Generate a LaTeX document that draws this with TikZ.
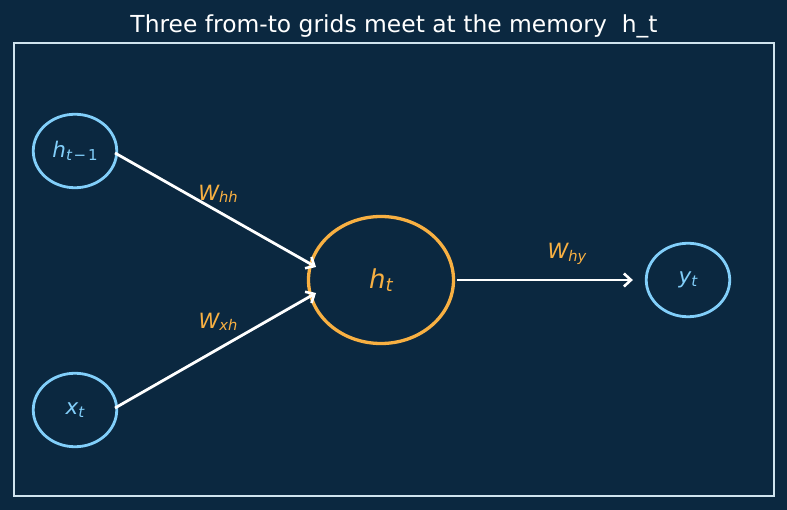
\documentclass[tikz,border=0pt]{standalone}
\usepackage{fontspec}
\setmainfont{DejaVu Sans}
\usetikzlibrary{shapes.geometric,arrows.meta,calc}
\definecolor{bgc}{HTML}{0B2840}
\definecolor{framec}{HTML}{CFE3EE}
\definecolor{bluec}{HTML}{82CFFA}
\definecolor{orangec}{HTML}{F8B042}
\newcommand{\mvar}[4]{{\fontsize{#1}{#1}\selectfont\itshape #3}\raisebox{-0.25em}{\fontsize{#2}{#2}\selectfont #4}}
\tikzset{
  leaf/.style={ellipse, draw=bluec, line width=2.8pt, minimum width=83.5pt, minimum height=73.5pt, inner sep=0pt, text=bluec},
  core/.style={ellipse, draw=orangec, line width=3.3pt, minimum width=145pt, minimum height=127pt, inner sep=0pt, text=orangec},
  conn/.style={draw=white, line width=2.8pt, -{Straight Barb[length=7pt,width=13pt,line width=2.6pt]}},
  wlab/.style={text=orangec, inner sep=0pt},
}
\begin{document}
\begin{tikzpicture}[x=1pt,y=-1pt]
\fill[bgc] (0,0) rectangle (787,510);
\useasboundingbox (0,0) rectangle (787,510);
\draw[framec, line width=1.6pt] (14,43) rectangle (774,496);
\node[text=white, inner sep=0pt, font=\fontsize{23.4}{23.4}\selectfont] (title) at (394,26) {Three from-to grids meet at the memory\ \ h\_t};
\node[leaf] (hprev) at (75,151) {\mvar{21.5}{15}{h}{\itshape t\kern0.12em−\kern0.12em\upshape 1}};
\node[leaf] (xt) at (75,410) {\mvar{21.5}{15}{x}{\itshape t}};
\node[core] (ht) at (381,280) {\mvar{26}{18.2}{h}{\itshape t}};
\node[leaf] (yt) at (688,280) {\mvar{21.5}{15}{y}{\itshape t}};
\draw[conn] ($(hprev.center)+(40,2)$) -- ($(ht.center)+(-65,-13)$);
\draw[conn] ($(xt.center)+(40,-2)$) -- ($(ht.center)+(-65,13)$);
\draw[conn] ($(ht.east)+(2,0)$) -- ($(yt.west)+(-12,0)$);
\node[wlab] (whh) at (218,194) {\mvar{21}{14.7}{W}{\itshape hh}};
\node[wlab] (wxh) at (218,322) {\mvar{21}{14.7}{W}{\itshape xh}};
\node[wlab] (why) at (567,254) {\mvar{21}{14.7}{W}{\itshape hy}};
\end{tikzpicture}
\end{document}
